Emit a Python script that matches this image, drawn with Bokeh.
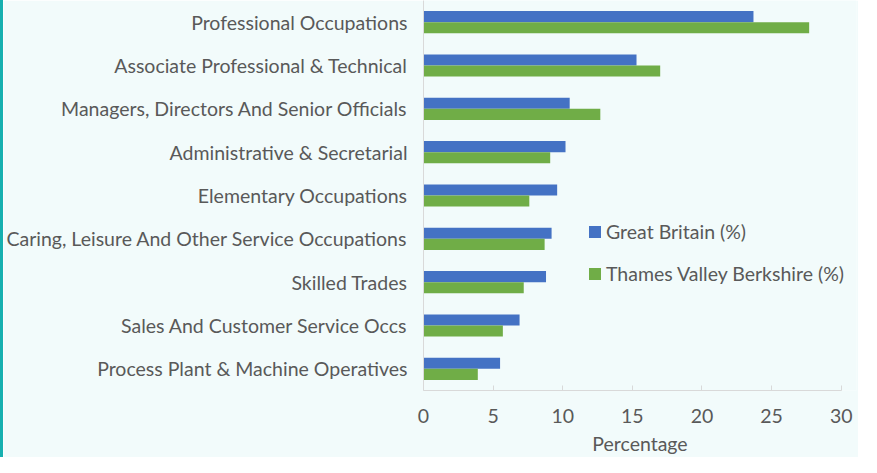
from bokeh.plotting import figure
from bokeh.models import ColumnDataSource, FactorRange, Legend, LegendItem, Range1d
from bokeh.transform import dodge
from bokeh.embed import file_html
from bokeh.resources import INLINE

categories = [
    "Professional Occupations",
    "Associate Professional & Technical",
    "Managers, Directors And Senior Officials",
    "Administrative & Secretarial",
    "Elementary Occupations",
    "Caring, Leisure And Other Service Occupations",
    "Skilled Trades",
    "Sales And Customer Service Occs",
    "Process Plant & Machine Operatives",
]
great_britain = [23.7, 15.3, 10.5, 10.2, 9.6, 9.2, 8.8, 6.9, 5.5]
thames_valley = [27.7, 17.0, 12.7, 9.1, 7.6, 8.7, 7.2, 5.7, 3.9]
x_ticks = [0, 5, 10, 15, 20, 25, 30]

FONT = "Lato"
FS = "19.5px"
TXT = "#595959"
BG = "#F2FBFB"

src = ColumnDataSource(dict(cat=categories, gb=great_britain, tv=thames_valley))

p = figure(
    width=858, height=457,
    y_range=FactorRange(factors=list(reversed(categories)), range_padding=0),
    x_range=Range1d(0, 31.1),
    output_backend="svg", toolbar_location=None,
    min_border_left=420, min_border_right=5, min_border_top=0, min_border_bottom=66,
    background_fill_color=BG, border_fill_color=BG, outline_line_color=None,
)
p.styles = {"border-left": "3px solid #17B0B0"}

r1 = p.hbar(y=dodge("cat", 0.128, range=p.y_range), right="gb", height=0.256,
            source=src, color="#4472C4", line_color=None)
r2 = p.hbar(y=dodge("cat", -0.128, range=p.y_range), right="tv", height=0.256,
            source=src, color="#70AD47", line_color=None)

p.xgrid.visible = False
p.ygrid.visible = False

xa = p.xaxis[0]
xa.ticker = x_ticks
xa.bounds = (0, 30)
xa.axis_line_color = "#D9D9D9"
xa.major_tick_line_color = "#D9D9D9"
xa.major_tick_in = 5
xa.major_tick_out = 0
xa.minor_tick_line_color = None
xa.major_label_text_font = FONT
xa.major_label_text_font_size = FS
xa.major_label_text_color = TXT
xa.major_label_standoff = 18
xa.axis_label = "Percentage"
xa.axis_label_text_font = FONT
xa.axis_label_text_font_size = FS
xa.axis_label_text_font_style = "normal"
xa.axis_label_text_color = TXT
xa.axis_label_standoff = 6

ya = p.yaxis[0]
ya.axis_line_color = "#D9D9D9"
ya.major_tick_line_color = None
ya.minor_tick_line_color = None
ya.major_label_text_font = FONT
ya.major_label_text_font_size = FS
ya.major_label_text_color = TXT
ya.major_label_standoff = 10

legend = Legend(
    items=[LegendItem(label="Great Britain (%)", renderers=[r1]),
           LegendItem(label="Thames Valley Berkshire (%)", renderers=[r2])],
    location=(164, 105), orientation="vertical",
    padding=0, margin=0, spacing=18,
    glyph_width=15, glyph_height=15, label_standoff=4, label_height=24,
    label_text_font=FONT, label_text_font_size=FS, label_text_color=TXT,
    background_fill_alpha=0, border_line_color=None,
)
p.add_layout(legend, "center")

open("out.html", "w").write(file_html(p, INLINE))
